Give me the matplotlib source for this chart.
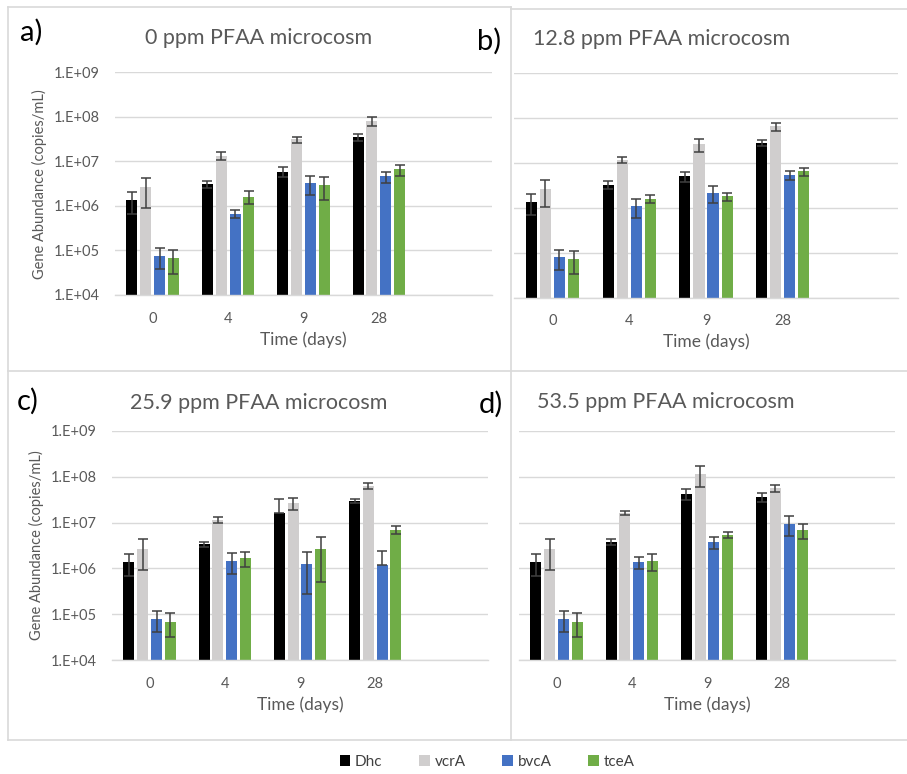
import numpy as np
import matplotlib.pyplot as plt
from matplotlib.lines import Line2D
from matplotlib.patches import Patch
from matplotlib.ticker import FixedLocator, FuncFormatter

plt.rcParams["font.family"] = ["Lato", "DejaVu Sans"]

# dados
days = ["0", "4", "9", "28"]
genes = ["Dhc", "vcrA", "bvcA", "tceA"]
colors = ["#000000", "#d0cece", "#4472c4", "#70ad47"]
titles = ["0 ppm PFAA microcosm", "12.8 ppm PFAA microcosm",
          "25.9 ppm PFAA microcosm", "53.5 ppm PFAA microcosm"]
letters = ["a)", "b)", "c)", "d)"]

# 0 ppm  (Dhc, vcrA, bvcA, tceA)
mean_0 = [[1.36e6, 3.1e6, 5.9e6, 3.5e7],
          [2.6e6, 1.34e7, 3.1e7, 8.1e7],
          [7.6e4, 6.7e5, 3.3e6, 4.6e6],
          [6.6e4, 1.62e6, 2.96e6, 6.6e6]]
err_0 = [[0.7e6, 0.6e6, 1.4e6, 6e6],
         [1.7e6, 2.8e6, 5e6, 2e7],
         [3.7e4, 1.3e5, 1.5e6, 1.3e6],
         [3.7e4, 0.5e6, 1.6e6, 1.8e6]]

# 12.8 ppm
mean_12 = [[1.38e6, 3.3e6, 5.1e6, 2.8e7],
           [2.65e6, 1.19e7, 2.6e7, 6.6e7],
           [7.9e4, 1.1e6, 2.2e6, 5.4e6],
           [7.1e4, 1.6e6, 1.8e6, 6.5e6]]
err_12 = [[0.7e6, 0.6e6, 1.3e6, 4e6],
          [1.6e6, 2e6, 8e6, 1.4e7],
          [3.8e4, 0.5e6, 0.9e6, 1.1e6],
          [3.7e4, 0.3e6, 0.4e6, 1.3e6]]

# 25.9 ppm
mean_25 = [[1.38e6, 3.4e6, 1.65e7, 3.0e7],
           [2.6e6, 1.16e7, 2.7e7, 6.3e7],
           [7.9e4, 1.45e6, 1.27e6, 1.17e6],
           [6.9e4, 1.68e6, 2.7e6, 6.9e6]]
err_25 = [[0.7e6, 0.45e6, 1.7e7, 3.5e6],
          [1.7e6, 1.7e6, 8e6, 1e7],
          [3.8e4, 0.7e6, 1.0e6, 1.2e6],
          [3.8e4, 0.6e6, 2.2e6, 1.4e6]]

# 53.5 ppm
mean_53 = [[1.38e6, 3.8e6, 4.2e7, 3.6e7],
           [2.6e6, 1.6e7, 1.14e8, 5.6e7],
           [7.9e4, 1.38e6, 3.8e6, 9.4e6],
           [6.9e4, 1.47e6, 5.4e6, 6.9e6]]
err_53 = [[0.7e6, 0.6e6, 1.1e7, 8e6],
          [1.7e6, 1.5e6, 5.5e7, 1e7],
          [3.8e4, 0.4e6, 1.1e6, 4.3e6],
          [3.8e4, 0.6e6, 0.9e6, 2.5e6]]

means = [mean_0, mean_12, mean_25, mean_53]
errs = [err_0, err_12, err_25, err_53]

W, H = 907, 774
fig = plt.figure(figsize=(W / 100, H / 100), dpi=100)


def fx(px):
    return px / W


def fy(py):
    return 1 - py / H


# posição de cada gráfico em pixels (esq, dir, topo, base)
boxes = [(115, 492, 72.3, 295), (514, 898, 73.3, 297.7),
         (112, 488, 431, 660), (519, 895, 431, 660)]
title_pos = [(259, 38), (662, 39), (259, 403), (666, 402)]
letter_pos = [(31, 32), (489, 41), (28, 401), (491, 404)]

grid_c = "#d9d9d9"
text_c = "#595959"
x = np.arange(len(days))
offsets = [-0.275, -0.092, 0.092, 0.275]

for i in range(4):
    l, r, t, b = boxes[i]
    ax = fig.add_axes([fx(l), fy(b), fx(r - l), fy(t) - fy(b)])
    ax.set_yscale("log")
    for g in range(4):
        vals = np.array(means[i][g])
        e = np.array(errs[i][g])
        ax.bar(x + offsets[g], vals - 1e4, bottom=1e4, width=0.145,
               color=colors[g], zorder=2)
        # Excel omite a parte de baixo quando passa do zero
        low = np.where(e < vals, e, 0)
        ax.errorbar(x + offsets[g], vals, yerr=[low, e], fmt="none",
                    ecolor="#404040", elinewidth=1.1, capsize=3.5,
                    capthick=1.1, zorder=3)
    ax.set_ylim(1e4, 1e9)
    ax.set_xlim(-0.5, 4.5)
    ax.yaxis.set_major_locator(FixedLocator([1e4, 1e5, 1e6, 1e7, 1e8, 1e9]))
    ax.yaxis.set_minor_locator(FixedLocator([]))
    ax.yaxis.set_major_formatter(FuncFormatter(lambda v, p: "1.E+%02d" % round(np.log10(v))))
    ax.set_xticks(x)
    ax.set_xticklabels(days)
    ax.grid(axis="y", color=grid_c, linewidth=1.0, zorder=0)
    ax.set_axisbelow(True)
    for s in ["top", "right", "left"]:
        ax.spines[s].set_visible(False)
    ax.spines["bottom"].set_color(grid_c)
    ax.spines["bottom"].set_linewidth(1.0)
    ax.tick_params(length=0, labelsize=10.5, labelcolor=text_c)
    ax.tick_params(axis="x", pad=12)
    ax.tick_params(axis="y", pad=11)
    ax.set_xlabel("Time (days)", fontsize=12.5, color=text_c, labelpad=4)
    if i in (0, 2):
        ax.set_ylabel("Gene Abundance (copies/mL)", fontsize=10.5, color=text_c, labelpad=5)
    else:
        ax.tick_params(axis="y", labelleft=False)
    fig.text(fx(title_pos[i][0]), fy(title_pos[i][1]), titles[i], fontsize=15.5,
             color=text_c, ha="center", va="center")
    fig.text(fx(letter_pos[i][0]), fy(letter_pos[i][1]), letters[i], fontsize=21,
             color="black", ha="center", va="center")

# molduras cinza dos painéis
frame_lines = [((8, 511), (7, 7)), ((511, 907), (9, 9)), ((8, 8), (7, 740)),
               ((511, 511), (7, 740)), ((8, 907), (371, 371)), ((8, 907), (740, 740))]
for xs, ys in frame_lines:
    fig.add_artist(Line2D([fx(v) for v in xs], [fy(v) for v in ys],
                          color=grid_c, linewidth=1.2))

handles = [Patch(facecolor=c, edgecolor="none") for c in colors]
fig.legend(handles, genes, loc="center", bbox_to_anchor=(fx(487), fy(762)),
           ncol=4, frameon=False, fontsize=11, handlelength=0.7, handleheight=0.7,
           handletextpad=0.3, columnspacing=2.4, labelcolor="#404040")

plt.savefig("out.png", dpi=100)
